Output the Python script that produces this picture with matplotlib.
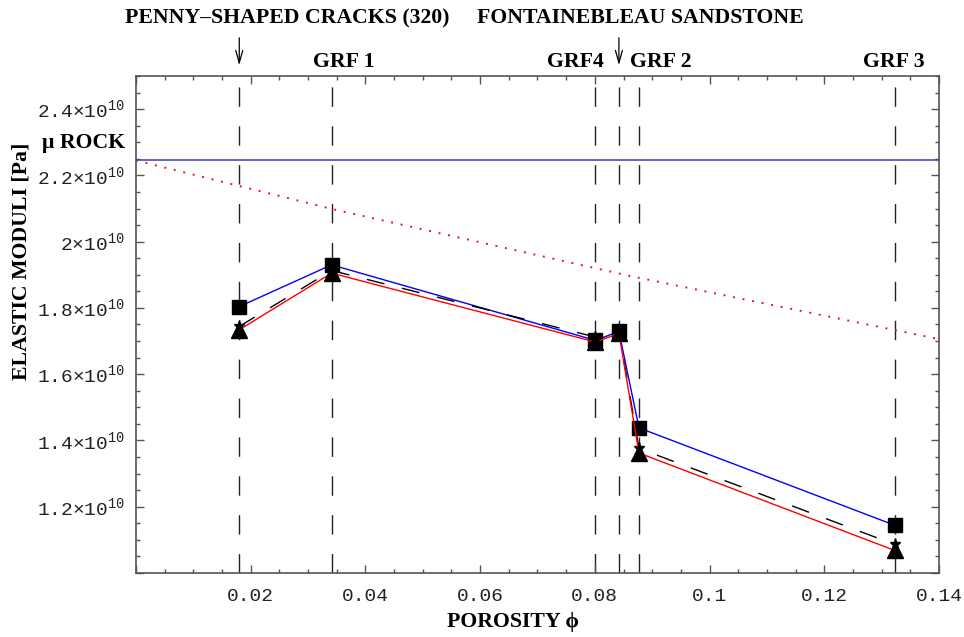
import matplotlib.pyplot as plt
from matplotlib.ticker import MultipleLocator, FuncFormatter

plt.rcParams['mathtext.fontset'] = 'custom'
plt.rcParams['mathtext.rm'] = 'Liberation Mono'

# porosity of the samples
porosity = [0.018, 0.0341, 0.0801, 0.0842, 0.0877, 0.1323]
# shear moduli (Pa)
mu_squares = [1.804e10, 1.930e10, 1.702e10, 1.729e10, 1.438e10, 1.144e10]
mu_triangles = [1.734e10, 1.905e10, 1.697e10, 1.723e10, 1.362e10, 1.068e10]
mu_dashed = [1.744e10, 1.913e10, 1.712e10, 1.728e10, 1.376e10, 1.086e10]

mu_rock = 2.245e10
bound_phi = [0.0, 0.018, 0.0342, 0.0477, 0.0861, 0.14]
bound_mu = [2.245e10, 2.168e10, 2.0985e10, 2.046e10, 1.8965e10, 1.706e10]

# sample labels above the frame
sample_labels = ['GRF 1', 'GRF4', 'GRF 2', 'GRF 3']

fig = plt.figure(figsize=(9.64, 6.37), dpi=100)
ax = fig.add_axes([0.1411, 0.1005, 0.8329, 0.7802])

serif = ['Liberation Serif', 'DejaVu Serif']
mono = 'Liberation Mono'

# vertical marker lines at each sample porosity
for p in porosity:
    ax.axvline(p, color='#222222', lw=1.0, dashes=(14, 14), zorder=1)

ax.axhline(mu_rock, color='#3a3aaa', lw=1.1, zorder=2)
ax.plot(bound_phi, bound_mu, color='#dd1144', lw=1.4, linestyle=(0, (1, 4)), zorder=2)

ax.plot(porosity, mu_squares, color='blue', lw=1.0, marker='s', ms=9.5,
        mfc='black', mec='black', zorder=3)
ax.plot(porosity, mu_dashed, color='black', lw=1.0, dashes=(13, 13), marker='*',
        ms=8, mfc='black', mec='black', zorder=3)
ax.plot(porosity, mu_triangles, color='red', lw=1.0, marker='^', ms=12,
        mfc='black', mec='black', zorder=4)

ax.set_xlim(0, 0.14)
ax.set_ylim(1.0e10, 2.5e10)

ax.xaxis.set_major_locator(MultipleLocator(0.02))
ax.xaxis.set_minor_locator(MultipleLocator(0.005))
ax.yaxis.set_major_locator(MultipleLocator(0.2e10))
ax.yaxis.set_minor_locator(MultipleLocator(0.05e10))


def xfmt(v, pos):
    if abs(v) < 1e-9:
        return ''
    return f'{v:.2f}'.rstrip('0')


def yfmt(v, pos):
    m = v / 1e10
    if m < 1.1:
        return ''
    s = f'{m:.1f}'
    if s.endswith('.0'):
        s = s[:-2]
    return s + '×10$^{10}$'


ax.xaxis.set_major_formatter(FuncFormatter(xfmt))
ax.yaxis.set_major_formatter(FuncFormatter(yfmt))

ax.tick_params(which='both', direction='in', top=True, right=True,
               colors='#555555', labelcolor='#222222')
ax.tick_params(which='major', length=6, width=1)
ax.tick_params(which='minor', length=3, width=1)
ax.tick_params(axis='x', pad=11)
ax.tick_params(axis='y', pad=8)
for lab in ax.get_xticklabels() + ax.get_yticklabels():
    lab.set_fontfamily(mono)
    lab.set_fontsize(14)
for sp in ax.spines.values():
    sp.set_color('#555555')
    sp.set_linewidth(1.2)

bold = dict(family=serif, fontweight='bold', fontsize=15.7, color='black')

fig.text(0.0228, 0.589, 'ELASTIC MODULI [Pa]', rotation=90, ha='center', va='center', **bold)
fig.text(0.532, 0.0235, 'POROSITY \u03d5', ha='center', va='center', **bold)
fig.text(0.1297, 0.7755, 'μ ROCK', ha='right', va='center', **bold)

fig.text(0.2977, 0.9717, 'PENNY\u2013SHAPED CRACKS (320)', ha='center', va='center', **bold)
fig.text(0.664, 0.9717, 'FONTAINEBLEAU SANDSTONE', ha='center', va='center', **bold)
for lab, xf in zip(sample_labels, [0.357, 0.5965, 0.6857, 0.927]):
    fig.text(xf, 0.9027, lab, ha='center', va='center', **bold)

# arrows for the two reference cases
for p in [porosity[0], porosity[3]]:
    ax.annotate('', xy=(p, 1.016), xycoords=('data', 'axes fraction'),
                xytext=(p, 1.0825), textcoords=('data', 'axes fraction'),
                arrowprops=dict(arrowstyle='->,head_length=0.9,head_width=0.25',
                                color='black', lw=0.9),
                annotation_clip=False)

fig.savefig('out.png', dpi=100)
